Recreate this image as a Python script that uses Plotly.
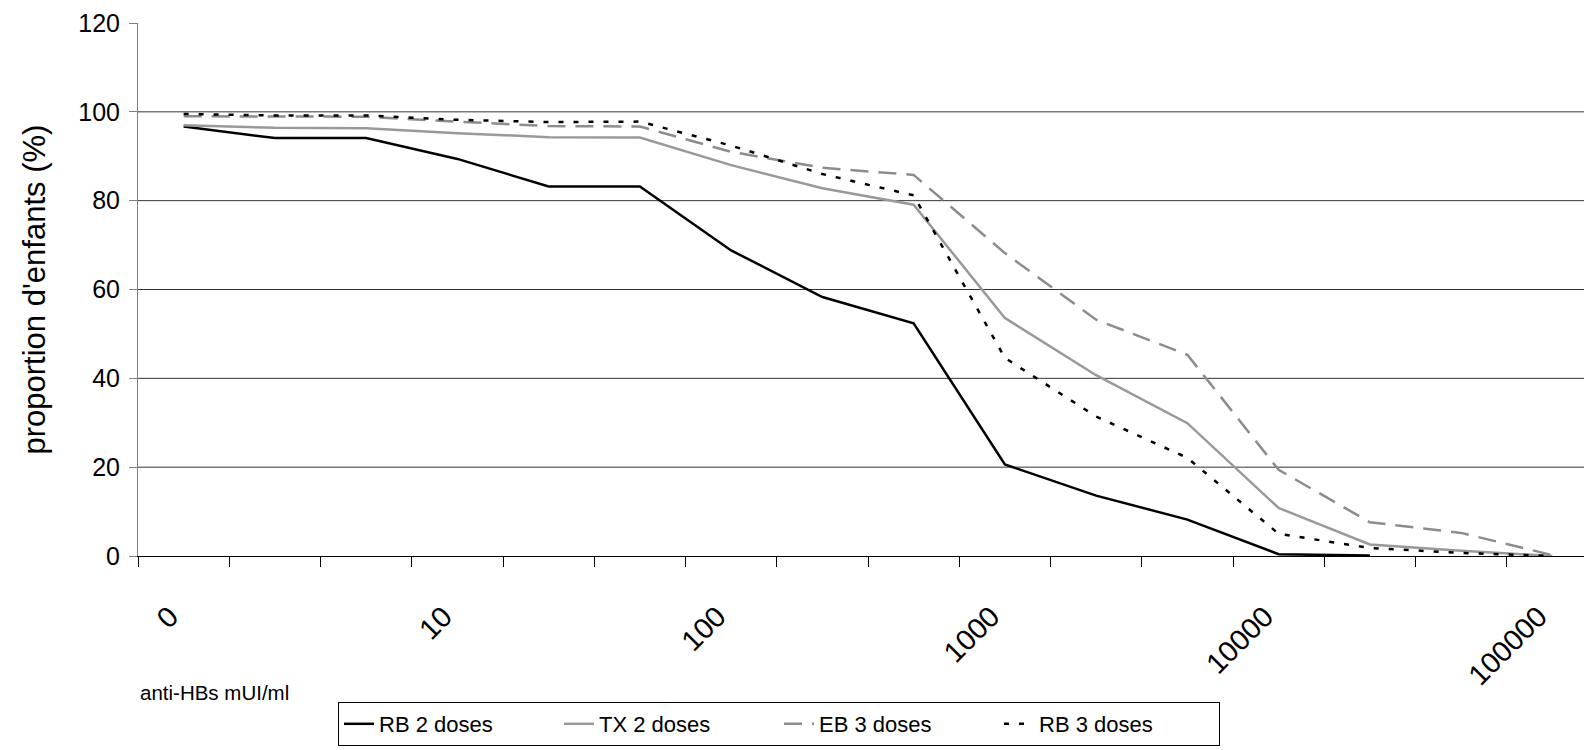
import plotly.graph_objects as go

# ---- data ----
categories = ["0", "2", "5", "10", "20", "50", "100", "200", "500", "1000",
              "2000", "5000", "10000", "20000", "50000", "100000"]
tick_labels = ["0", "10", "100", "1000", "10000", "100000"]
y_ticks = [0, 20, 40, 60, 80, 100, 120]

series_names = ["RB 2 doses", "TX 2 doses", "EB 3 doses", "RB 3 doses"]
rb2 = [96.7, 94.1, 94.1, 89.4, 83.2, 83.2, 68.8, 58.3, 52.4, 20.6, 13.6, 8.2, 0.4, 0.1, None, None]
tx2 = [97.0, 96.4, 96.3, 95.2, 94.3, 94.2, 88.0, 82.8, 79.1, 53.6, 40.7, 29.9, 10.8, 2.6, 1.2, 0.0]
eb3 = [99.0, 98.9, 98.9, 97.8, 96.8, 96.7, 91.0, 87.4, 85.8, 68.2, 53.2, 45.3, 19.4, 7.6, 5.2, 0.2]
rb3 = [99.5, 99.2, 99.2, 98.2, 97.7, 97.8, 92.4, 86.0, 81.2, 44.6, 31.4, 22.1, 5.0, 1.8, 0.7, 0.0]

# ---- layout geometry (page pixels of the reference) ----
PAGE_W, PAGE_H = 1592, 750
OFF = 8                      # default body margin of the html page
W, H = PAGE_W - OFF, PAGE_H - OFF
plot_left, plot_top, plot_bottom = 138, 23, 556
ML = plot_left - OFF
MT = plot_top - OFF
MB = H - (plot_bottom - OFF)
MR = 0
plot_w = W - ML - MR
plot_h = H - MT - MB
cat_px = 91.25  # pixel width of one category in the reference

styles = [
    dict(color="#000000", width=2.5, dash="solid"),
    dict(color="#999999", width=2.5, dash="solid"),
    dict(color="#8c8c8c", width=2.5, dash="18px,10px"),
    dict(color="#000000", width=2.5, dash="5px,10px"),
]

x = list(range(len(categories)))
fig = go.Figure()
for name, vals, st in zip(series_names, [rb2, tx2, eb3, rb3], styles):
    fig.add_trace(go.Scatter(x=x, y=vals, name=name, mode="lines",
                             line=st, connectgaps=False))

label_idx = [categories.index(t) for t in tick_labels]
label_pos = [i - 0.15 for i in label_idx]
boundaries = [i - 0.5 for i in range(len(categories) + 1)]
x_max = -0.5 + plot_w / cat_px

font_family = "Liberation Sans, Arial, sans-serif"

fig.update_layout(
    width=W, height=H, autosize=False,
    margin=dict(l=ML, r=MR, t=MT, b=MB, autoexpand=False),
    plot_bgcolor="white", paper_bgcolor="white",
    font=dict(family=font_family, size=22, color="black"),
    showlegend=True,
    legend=dict(orientation="h", xanchor="left", yanchor="top",
                xref="container", yref="container",
                x=(338 - OFF) / W, y=1 - (702 - OFF) / H,
                bordercolor="black", borderwidth=1, bgcolor="white",
                font=dict(size=22), entrywidth=175, entrywidthmode="pixels",
                traceorder="normal"),
    xaxis=dict(range=[-0.5, x_max], tickmode="array", tickvals=label_pos,
               ticktext=tick_labels, ticks="", tickangle=-45,
               ticklabelstandoff=31, showgrid=False, zeroline=False,
               showline=True, linecolor="black", linewidth=1,
               automargin=False, tickfont=dict(size=29),
               minor=dict(tickmode="array", tickvals=boundaries, ticks="outside",
                          ticklen=10, tickcolor="black", tickwidth=1, showgrid=False)),
    yaxis=dict(range=[0, 120], tickmode="array", tickvals=y_ticks,
               ticks="outside", ticklen=8, tickcolor="#808080",
               showline=True, linecolor="#808080", linewidth=1,
               showgrid=False, zeroline=False, ticklabelstandoff=4,
               automargin=False, tickfont=dict(size=25)),
)

for v in y_ticks[1:-1]:
    fig.add_shape(type="line", xref="paper", x0=0, x1=1, yref="y", y0=v, y1=v,
                  line=dict(color="#333333", width=1), layer="below")

fig.add_annotation(text="proportion d'enfants (%)", textangle=-90,
                   xref="paper", yref="paper", x=(34 - plot_left) / plot_w, y=0.5,
                   xanchor="center", yanchor="middle", showarrow=False,
                   font=dict(size=31))
fig.add_annotation(text="anti-HBs mUI/ml", xref="paper", yref="paper",
                   x=0, y=(plot_bottom - 692) / plot_h,
                   xanchor="left", yanchor="middle", showarrow=False,
                   font=dict(size=20.5))

fig.write_html("out.html")
